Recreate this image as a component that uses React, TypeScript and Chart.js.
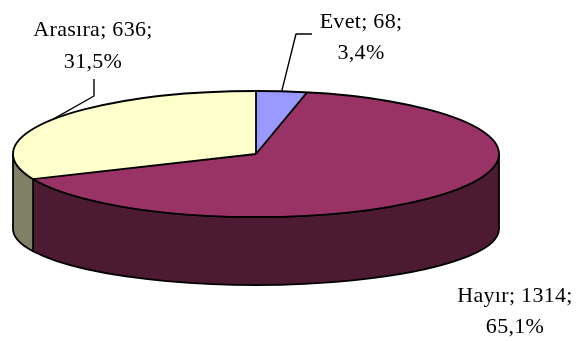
import { useEffect, useRef } from "react";
import { Chart, registerables } from "chart.js";

Chart.register(...registerables);

// Survey answers and their counts
const categories = ["Evet", "Hayır", "Arasıra"];
const counts = [68, 1314, 636];

// Top face colours and the darker shades used for the rim
const topColors = ["#9999FF", "#993366", "#FFFFCC"];
const sideColors = ["#4D4D80", "#4D1A33", "#808066"];

// Tilt of the disc: vertical radius as a fraction of the horizontal one
const SQUASH = 63 / 243;
const RIM_DEPTH = 75;
const BOTTOM_SQUASH = 56 / 243;

const LABEL_FONT = '22px "Liberation Serif", "Times New Roman", serif';

// Where each label's two lines sit (centre x, first and second baseline)
const labelPlacement = [
  { x: 361, y1: 28, y2: 59, leader: [[312, 34], [296, 34]] },
  { x: 515, y1: 302, y2: 333, leader: null },
  { x: 93, y1: 36, y2: 68, leader: [[94, 79], [94, 96]] },
];

const formatPercent = (v: number, total: number) =>
  ((v / total) * 100).toFixed(1).replace(".", ",") + "%";

const pie3d = {
  id: "pie3d",
  beforeDatasetsDraw(chart: any) {
    const ctx: CanvasRenderingContext2D = chart.ctx;
    const arcs = chart.getDatasetMeta(0).data;
    if (!arcs.length) return;
    const cx = arcs[0].x;
    const cy = arcs[0].y;
    const rx = arcs[0].outerRadius;
    const ry = rx * SQUASH;
    const cyB = cy + RIM_DEPTH;
    const ryB = rx * BOTTOM_SQUASH;

    ctx.save();
    ctx.lineWidth = 1.8;
    ctx.strokeStyle = "#000";
    ctx.lineJoin = "round";
    arcs.forEach((arc: any, i: number) => {
      const a1 = Math.max(arc.startAngle, 0);
      const a2 = Math.min(arc.endAngle, Math.PI);
      if (a2 <= a1) return;
      ctx.beginPath();
      ctx.moveTo(cx + rx * Math.cos(a1), cy + ry * Math.sin(a1));
      ctx.ellipse(cx, cy, rx, ry, 0, a1, a2);
      ctx.lineTo(cx + rx * Math.cos(a2), cyB + ryB * Math.sin(a2));
      ctx.ellipse(cx, cyB, rx, ryB, 0, a2, a1, true);
      ctx.closePath();
      ctx.fillStyle = sideColors[i];
      ctx.fill();
      ctx.stroke();
    });
    ctx.restore();

    // flatten the top face into an ellipse
    ctx.save();
    ctx.translate(cx, cy);
    ctx.scale(1, SQUASH);
    ctx.translate(-cx, -cy);
  },
  afterDatasetsDraw(chart: any) {
    const ctx: CanvasRenderingContext2D = chart.ctx;
    ctx.restore();
    const arcs = chart.getDatasetMeta(0).data;
    if (!arcs.length) return;
    const cx = arcs[0].x;
    const cy = arcs[0].y;
    const rx = arcs[0].outerRadius;
    const ry = rx * SQUASH;

    ctx.save();
    ctx.lineWidth = 1.8;
    ctx.strokeStyle = "#000";
    ctx.lineJoin = "round";
    // outline of the top face and the slice edges
    ctx.beginPath();
    ctx.ellipse(cx, cy, rx, ry, 0, 0, Math.PI * 2);
    ctx.stroke();
    arcs.forEach((arc: any) => {
      const a = arc.startAngle;
      ctx.beginPath();
      ctx.moveTo(cx, cy);
      ctx.lineTo(cx + rx * Math.cos(a), cy + ry * Math.sin(a));
      ctx.stroke();
    });

    // data labels with leader lines
    const total = counts.reduce((s, v) => s + v, 0);
    ctx.lineWidth = 1.4;
    ctx.font = LABEL_FONT;
    (ctx as any).letterSpacing = "0.3px";
    ctx.fillStyle = "#000";
    ctx.textAlign = "center";
    ctx.textBaseline = "alphabetic";
    arcs.forEach((arc: any, i: number) => {
      const p = labelPlacement[i];
      ctx.fillText(`${categories[i]}; ${counts[i]};`, p.x, p.y1);
      ctx.fillText(formatPercent(counts[i], total), p.x, p.y2);
      if (p.leader) {
        const mid = (arc.startAngle + arc.endAngle) / 2;
        ctx.beginPath();
        ctx.moveTo(p.leader[0][0], p.leader[0][1]);
        ctx.lineTo(p.leader[1][0], p.leader[1][1]);
        ctx.lineTo(cx + rx * Math.cos(mid), cy + ry * Math.sin(mid));
        ctx.stroke();
      }
    });
    ctx.restore();
  },
};

export default function App() {
  const canvasRef = useRef<HTMLCanvasElement | null>(null);

  useEffect(() => {
    const canvas = canvasRef.current;
    if (!canvas) return;
    const chart = new Chart(canvas, {
      type: "pie",
      data: {
        labels: categories,
        datasets: [
          {
            data: counts,
            backgroundColor: topColors,
            borderWidth: 0,
            radius: 243,
            clip: false,
          } as any,
        ],
      },
      options: {
        responsive: false,
        animation: false,
        events: [],
        layout: { padding: { left: 0, right: 65, top: 0, bottom: 33 } },
        plugins: {
          legend: { display: false },
          tooltip: { enabled: false },
        },
      },
      plugins: [pie3d],
    });
    return () => chart.destroy();
  }, []);

  return (
    <div
      style={{
        position: "fixed",
        left: 0,
        top: 0,
        width: 577,
        height: 341,
        background: "#fff",
      }}
    >
      <canvas ref={canvasRef} width={577} height={341} />
    </div>
  );
}
